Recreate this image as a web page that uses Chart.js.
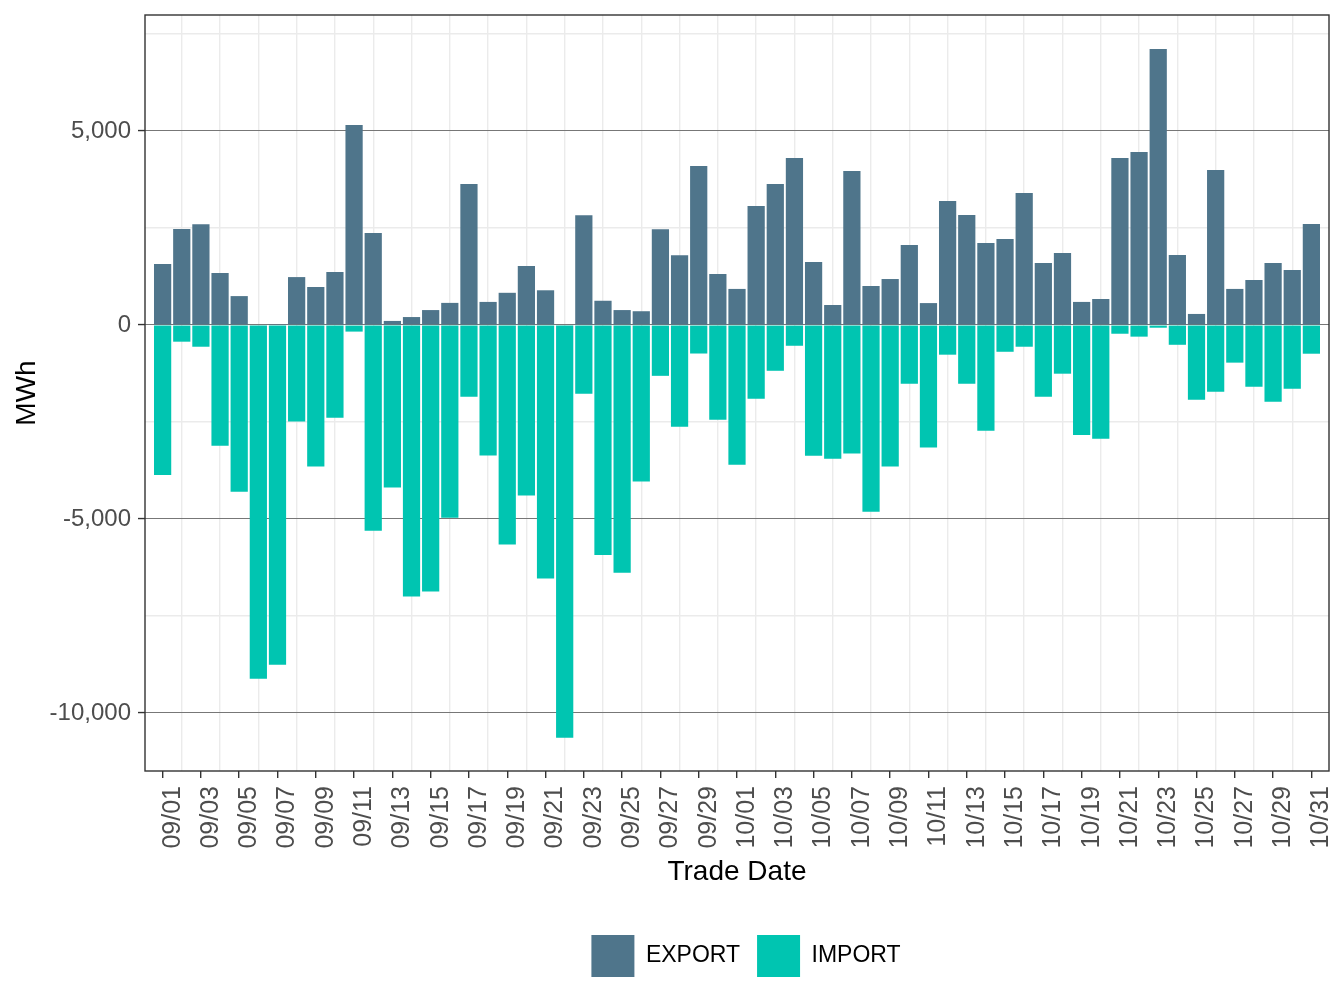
<!DOCTYPE html>
<html>
<head>
<meta charset="utf-8">
<script src="https://cdn.jsdelivr.net/npm/chart.js@4"></script>
<style>
  html, body { margin: 0; padding: 0; background: #fff; }
  #wrap { width: 1344px; height: 1008px; }
</style>
</head>
<body>
<div id="wrap"><canvas id="chart"></canvas></div>
<script>
const dates = [
  '09/01', '09/02', '09/03', '09/04', '09/05', '09/06', '09/07', '09/08', '09/09', '09/10',
  '09/11', '09/12', '09/13', '09/14', '09/15', '09/16', '09/17', '09/18', '09/19', '09/20',
  '09/21', '09/22', '09/23', '09/24', '09/25', '09/26', '09/27', '09/28', '09/29', '09/30',
  '10/01', '10/02', '10/03', '10/04', '10/05', '10/06', '10/07', '10/08', '10/09', '10/10',
  '10/11', '10/12', '10/13', '10/14', '10/15', '10/16', '10/17', '10/18', '10/19', '10/20',
  '10/21', '10/22', '10/23', '10/24', '10/25', '10/26', '10/27', '10/28', '10/29', '10/30',
  '10/31'
];

// MWh per trade date
const exportMWh = [
  1570, 2475, 2600, 1340, 745, 0, 25, 1235, 980, 1365,
  5155, 2370, 105, 205, 385, 570, 3635, 595, 830, 1520,
  895, 0, 2830, 625, 385, 355, 2470, 1800, 4095, 1315,
  930, 3065, 3635, 4305, 1625, 515, 3970, 1005, 1185, 2060,
  565, 3195, 2835, 2115, 2215, 3400, 1600, 1855, 595, 670,
  4305, 4460, 7115, 1805, 285, 3995, 930, 1160, 1600, 1420,
  2605
];
const importMWh = [
  -3866, -430, -560, -3110, -4300, -9115, -8755, -2490, -3650, -2390,
  -170, -5300, -4190, -7000, -6870, -4965, -1850, -3365, -5660, -4395,
  -6535, -10635, -1770, -5925, -6385, -4035, -1310, -2625, -735, -2445,
  -3600, -1900, -1180, -535, -3370, -3445, -3315, -4810, -3650, -1515,
  -3160, -765, -1515, -2725, -690, -560, -1850, -1255, -2835, -2930,
  -225, -300, -70, -510, -1925, -1720, -970, -1590, -1975, -1640,
  -740
];

// y breaks: labelled every 5,000, minor lines in between
const yBreaks = [-10000, -7500, -5000, -2500, 0, 2500, 5000, 7500];
const yLabelled = [-10000, -5000, 0, 5000];

const EXPORT_COLOR = '#4F758B';
const IMPORT_COLOR = '#00C5B1';

Chart.defaults.font.family = '"Liberation Sans", Arial, sans-serif';

const isMajorY = (c) => c.tick && yLabelled.includes(c.tick.value);

// ggplot-like panel border around the plotting area
const panelBorder = {
  id: 'panelBorder',
  afterLayout(chart) {
    // centre the legend under the panel the way ggplot does
    const lg = chart.legend;
    if (lg) { lg.left += 9; lg.right += 9; }
  },
  afterDatasetsDraw(chart) {
    const {ctx, chartArea: a} = chart;
    ctx.save();
    ctx.strokeStyle = '#333333';
    ctx.lineWidth = 1.4;
    ctx.strokeRect(a.left, a.top, a.right - a.left, a.bottom - a.top);
    ctx.restore();
  }
};

const toPoints = (vals) => vals.map((v, i) => ({x: i, y: v}));

new Chart(document.getElementById('chart'), {
  type: 'bar',
  data: {
    datasets: [{
      label: 'EXPORT',
      data: toPoints(exportMWh),
      backgroundColor: EXPORT_COLOR,
      borderWidth: 0
    }, {
      label: 'IMPORT',
      data: toPoints(importMWh),
      backgroundColor: IMPORT_COLOR,
      borderWidth: 0
    }]
  },
  plugins: [panelBorder],
  options: {
    responsive: true,
    maintainAspectRatio: false,
    animation: false,
    categoryPercentage: 1,
    barPercentage: 0.9,
    layout: {
      padding: {top: 15, right: 15, bottom: 21, left: 0}
    },
    plugins: {
      tooltip: {enabled: false},
      legend: {
        position: 'bottom',
        fullSize: false,
        labels: {
          boxWidth: 43,
          boxHeight: 42,
          padding: 17,
          color: '#000',
          font: {size: 23}
        }
      }
    },
    scales: {
      x: {
        type: 'linear',
        stacked: true,
        offset: false,
        min: -0.92,
        max: 60.92,
        afterBuildTicks: (scale) => {
          scale.ticks = dates.map((d, i) => ({value: i}));
        },
        afterFit: (scale) => {
          scale.height = 147;
          scale.paddingLeft = 0;
          scale.paddingRight = 0;
        },
        border: {display: false},
        grid: {
          offset: false,
          color: (c) => (c.tick && c.tick.value % 2 === 1) ? '#EBEBEB' : 'rgba(0,0,0,0)',
          tickColor: (c) => (c.tick && c.tick.value % 2 === 0) ? '#333333' : 'rgba(0,0,0,0)',
          lineWidth: 1.4,
          tickLength: 7,
          tickWidth: 1.4
        },
        ticks: {
          autoSkip: false,
          minRotation: 90,
          maxRotation: 90,
          labelOffset: 10,
          padding: 8,
          color: '#4D4D4D',
          font: {size: 25},
          callback: (v) => (v % 2 === 0 ? dates[v] : '')
        },
        title: {
          display: true,
          text: 'Trade Date',
          color: '#000',
          font: {size: 28},
          padding: {top: 0, bottom: 29}
        }
      },
      y: {
        stacked: true,
        min: -11495,
        max: 7990,
        afterBuildTicks: (scale) => {
          scale.ticks = yBreaks.map((v) => ({value: v}));
        },
        afterFit: (scale) => {
          scale.width = 145;
          scale.paddingTop = 0;
          scale.paddingBottom = 0;
        },
        border: {display: false},
        grid: {
          color: (c) => isMajorY(c) ? '#777777' : '#EBEBEB',
          tickColor: (c) => isMajorY(c) ? '#333333' : 'rgba(0,0,0,0)',
          lineWidth: (c) => isMajorY(c) ? 1.1 : 1.4,
          tickLength: 7,
          tickWidth: 1.4
        },
        ticks: {
          padding: 7,
          color: '#4D4D4D',
          font: {size: 24},
          callback: (v) => (yLabelled.includes(v) ? v.toLocaleString('en-US') : '')
        },
        title: {
          display: true,
          text: 'MWh',
          color: '#000',
          font: {size: 28},
          padding: {top: 10, bottom: 0}
        }
      }
    }
  }
});
</script>
</body>
</html>
